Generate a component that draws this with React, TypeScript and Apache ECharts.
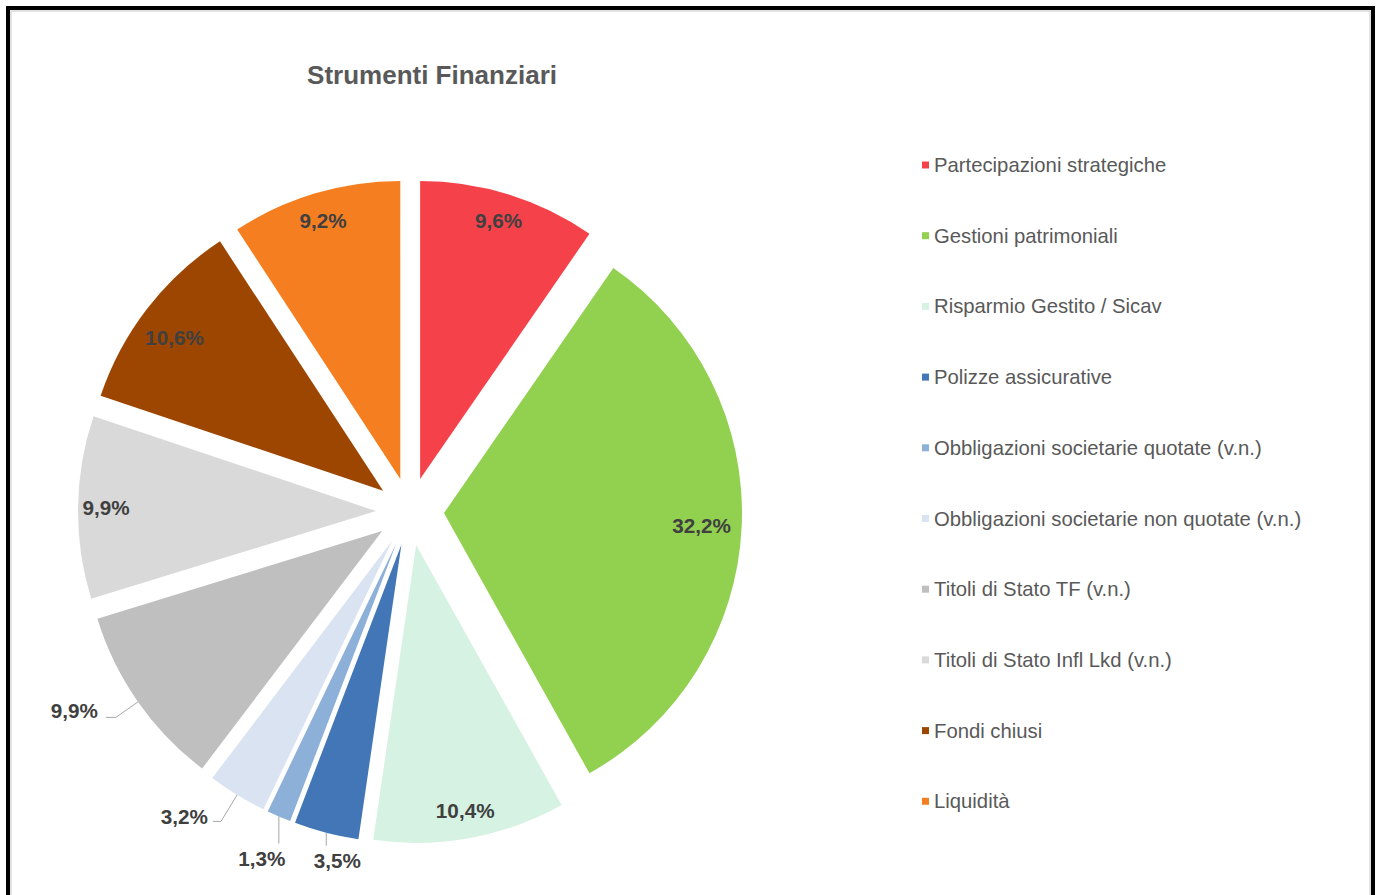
import React, { useEffect, useRef } from "react";
import * as echarts from "echarts";

const titleText = "Strumenti Finanziari";
const categories = [
  "Partecipazioni strategiche",
  "Gestioni patrimoniali",
  "Risparmio Gestito / Sicav",
  "Polizze assicurative",
  "Obbligazioni societarie quotate (v.n.)",
  "Obbligazioni societarie non quotate (v.n.)",
  "Titoli di Stato TF (v.n.)",
  "Titoli di Stato Infl Lkd (v.n.)",
  "Fondi chiusi",
  "Liquidità",
];
const values = [9.6, 32.2, 10.4, 3.5, 1.3, 3.2, 9.9, 9.9, 10.6, 9.2];
const colors = [
  "#F5424A",
  "#92D050",
  "#D6F2E2",
  "#4276B6",
  "#8DB0D9",
  "#D9E3F1",
  "#BFBFBF",
  "#D9D9D9",
  "#9C4602",
  "#F57F20",
];
// which labels sit outside the pie with a leader line
const outsideLabel = [false, false, false, true, true, true, true, false, false, false];

const FONT = "'Liberation Sans', Arial, Helvetica, sans-serif";
const LABEL_GAP = 5;
const LABEL_SIZE = 20.7;

// small nudges for inside labels (index -> [dx, dy])
const insideNudge: Record<number, number[]> = {
  0: [-2, -1],
  1: [-12, 0],
  8: [5, 12],
};
// leader-line settings for outside labels (index -> config)
const outsideLines: Record<number, { length: number; length2: number }> = {
  3: { length: 12, length2: 0 },
  4: { length: 27, length2: 0 },
  5: { length: 31, length2: 8 },
  6: { length: 27, length2: 10 },
};
// nudges for side labels
const sideNudge: Record<number, number[]> = {
  5: [0, -5],
  6: [-3, -7],
};
// labels placed below a vertical leader line
const belowLabels: Record<number, { drop: number; shift: number; below: number }> = {
  3: { drop: 13, shift: 11, below: 15 },
  4: { drop: 27, shift: -17, below: 15 },
};

const fmt = (v: number) => v.toFixed(1).replace(".", ",") + "%";

export default function App() {
  const ref = useRef<HTMLDivElement>(null);

  useEffect(() => {
    document.body.style.margin = "0";
    if (!ref.current) return;
    const chart = echarts.init(ref.current, undefined, { renderer: "svg" });

    const mainData = categories.map((name, i) => ({
      name,
      value: values[i],
      selected: true,
      itemStyle: { color: colors[i] },
      label: outsideLabel[i] ? { show: true } : { show: false },
      labelLine: outsideLabel[i]
        ? { show: true, length: outsideLines[i].length, length2: outsideLines[i].length2 }
        : { show: false },
    }));

    const ringData = categories.map((name, i) => ({
      name,
      value: values[i],
      selected: true,
      label: { show: !outsideLabel[i] },
    }));

    const option: any = {
      animation: false,
      backgroundColor: "#ffffff",
      title: {
        text: titleText,
        left: 432,
        top: 62,
        padding: 0,
        textAlign: "center",
        textStyle: {
          fontFamily: FONT,
          fontSize: 26,
          fontWeight: "bold",
          color: "#595959",
        },
      },
      legend: {
        orient: "vertical",
        left: 922,
        top: 155,
        padding: 0,
        icon: "rect",
        itemWidth: 7,
        itemHeight: 7,
        itemGap: 50.7,
        selectedMode: false,
        data: categories,
        textStyle: {
          fontFamily: FONT,
          fontSize: 20.3,
          lineHeight: 20,
          color: "#595959",
        },
      },
      graphic: [
        {
          type: "rect",
          silent: true,
          z: 100,
          shape: { x: 8, y: 8, width: 1365, height: 1000 },
          style: { fill: "none", stroke: "#000000", lineWidth: 4 },
        },
        {
          type: "rect",
          silent: true,
          z: 100,
          shape: { x: 11, y: 11, width: 1359, height: 1000 },
          style: { fill: "none", stroke: "#D9D9D9", lineWidth: 1.5 },
        },
      ],
      series: [
        {
          type: "pie",
          name: "main",
          center: [410, 511.5],
          radius: [0, 298],
          startAngle: 90,
          clockwise: true,
          selectedMode: "multiple",
          selectedOffset: 34,
          avoidLabelOverlap: false,
          emphasis: { disabled: true },
          itemStyle: { borderWidth: 0 },
          label: {
            position: "outside",
            formatter: (p: any) => fmt(p.value),
            fontFamily: FONT,
            fontSize: LABEL_SIZE,
            fontWeight: "bold",
            color: "#404040",
            padding: 0,
            distanceToLabelLine: LABEL_GAP,
          },
          labelLine: {
            lineStyle: { color: "#A6A6A6", width: 1 },
            smooth: false,
          },
          labelLayout: (p: any) => {
            const side = sideNudge[p.dataIndex];
            if (side) return { dx: side[0], dy: side[1] };
            const adj = belowLabels[p.dataIndex];
            if (!adj || !p.labelLinePoints || !p.labelRect) return {};
            const pts = p.labelLinePoints;
            const r = p.labelRect;
            const end = pts[pts.length - 1];
            const curCx = r.x + r.width / 2;
            const curCy = r.y + r.height / 2;
            const tx = r.x + r.width + LABEL_GAP - end[0];
            const ty = curCy - end[1];
            const p0 = pts[0];
            const lineEnd = [p0[0], p0[1] + adj.drop];
            const wantCx = lineEnd[0] + tx + adj.shift;
            const wantCy = lineEnd[1] + ty + adj.below;
            return {
              dx: wantCx - curCx,
              dy: wantCy - curCy,
              labelLinePoints: [p0, lineEnd],
            };
          },
          data: mainData,
        },
        {
          type: "pie",
          name: "labels",
          center: [410, 511.5],
          radius: [236, 298],
          startAngle: 90,
          clockwise: true,
          selectedMode: "multiple",
          selectedOffset: 34,
          silent: true,
          legendHoverLink: false,
          emphasis: { disabled: true },
          itemStyle: { color: "rgba(0,0,0,0)", borderWidth: 0 },
          label: {
            position: "inside",
            formatter: (p: any) => fmt(p.value),
            fontFamily: FONT,
            fontSize: LABEL_SIZE,
            fontWeight: "bold",
            color: "#404040",
          },
          labelLayout: (p: any) => {
            const n = insideNudge[p.dataIndex];
            return n ? { dx: n[0], dy: n[1] } : {};
          },
          labelLine: { show: false },
          data: ringData,
        },
      ],
    };

    chart.setOption(option);
    return () => {
      chart.dispose();
    };
  }, []);

  return <div ref={ref} style={{ width: 1380, height: 895 }} />;
}
